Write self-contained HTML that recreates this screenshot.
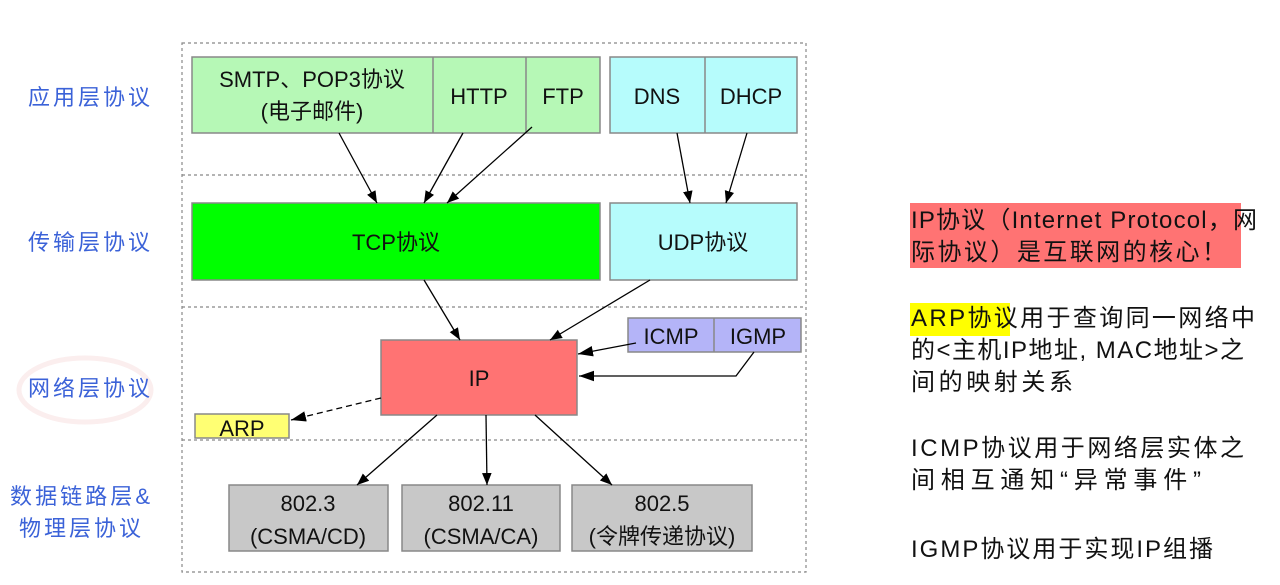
<!DOCTYPE html>
<html><head><meta charset="utf-8"><style>
body{margin:0;background:#fff}
svg{display:block}
.d{font-family:"Liberation Sans","Noto Sans CJK SC",sans-serif;font-size:22px;fill:#111}
.l{font-family:"Liberation Sans","Noto Sans CJK SC",sans-serif;font-size:22px;fill:#3b62d8}
.r{font-family:"Liberation Sans","Noto Sans CJK SC",sans-serif;font-size:24px;fill:#111}
</style></head><body>
<svg width="1280" height="585" viewBox="0 0 1280 585" xmlns="http://www.w3.org/2000/svg">
<defs><marker id="a" viewBox="0 0 10 10" refX="10" refY="5" markerWidth="12" markerHeight="12" orient="auto" markerUnits="userSpaceOnUse"><path d="M0,1 L10,5 L0,9 z" fill="#000"/></marker>
<marker id="b" viewBox="0 0 10 10" refX="10" refY="5" markerWidth="15" markerHeight="15" orient="auto" markerUnits="userSpaceOnUse"><path d="M0,1.5 L10,5 L0,8.5 z" fill="#000"/></marker></defs>
<rect x="0" y="0" width="1280" height="585" fill="#fff"/>
<ellipse cx="85" cy="390" rx="66" ry="32" fill="none" stroke="#fbeeee" stroke-width="5"/>
<g fill="none" stroke="#888" stroke-width="1.2" stroke-dasharray="3,3">
<rect x="182" y="43" width="624" height="529"/>
<line x1="182" y1="175" x2="806" y2="175"/><line x1="182" y1="307" x2="806" y2="307"/><line x1="182" y1="440" x2="806" y2="440"/>
</g>
<g stroke="#888" stroke-width="1.5">
<rect x="192" y="57" width="408" height="76" fill="#b6f8b6"/>
<line x1="433" y1="57" x2="433" y2="133"/><line x1="526" y1="57" x2="526" y2="133"/>
<rect x="610" y="57" width="187" height="76" fill="#b6fcfc"/>
<line x1="705" y1="57" x2="705" y2="133"/>
<rect x="192" y="203" width="408" height="77" fill="#00ff00"/>
<rect x="610" y="203" width="187" height="77" fill="#b6fcfc"/>
<rect x="381" y="340" width="196" height="75" fill="#ff7373"/>
<rect x="628" y="318" width="173" height="34" fill="#b4b4f8"/>
<line x1="714" y1="318" x2="714" y2="352"/>
<rect x="195" y="414" width="94" height="24" fill="#ffff73"/>
<rect x="229" y="485" width="159" height="66" fill="#c8c8c8"/>
<rect x="402" y="485" width="158" height="66" fill="#c8c8c8"/>
<rect x="572" y="485" width="180" height="66" fill="#c8c8c8"/>
</g>
<g stroke="#000" stroke-width="1.3" fill="none" marker-end="url(#a)">
<line x1="339" y1="133" x2="377" y2="203"/>
<line x1="463" y1="133" x2="424" y2="203"/>
<line x1="532" y1="127" x2="447" y2="203"/>
<line x1="677" y1="133" x2="690" y2="203"/>
<line x1="747" y1="133" x2="726" y2="203"/>
<line x1="424" y1="280" x2="460" y2="340"/>
<line x1="650" y1="280" x2="550" y2="340"/>
<line x1="636" y1="343" x2="578" y2="354" marker-end="url(#b)"/>
<polyline points="754,352 736,376 579,376" marker-end="url(#b)"/>
<line x1="437" y1="415" x2="357" y2="485"/>
<line x1="486" y1="415" x2="487" y2="485"/>
<line x1="535" y1="415" x2="612" y2="485"/>
<line x1="381" y1="398" x2="291" y2="420" stroke-dasharray="6,4" marker-end="url(#b)"/>
</g>
<g class="d" text-anchor="middle">
<text x="312" y="87">SMTP、POP3协议</text><text x="312" y="119">(电子邮件)</text>
<text x="479" y="104">HTTP</text><text x="563" y="104">FTP</text>
<text x="657" y="104">DNS</text><text x="751" y="104">DHCP</text>
<text x="396" y="250">TCP协议</text><text x="703" y="250">UDP协议</text>
<text x="479" y="386">IP</text>
<text x="671" y="344">ICMP</text><text x="758" y="344">IGMP</text>
<text x="242" y="436">ARP</text>
<text x="308" y="511">802.3</text><text x="308" y="544">(CSMA/CD)</text>
<text x="481" y="511">802.11</text><text x="481" y="544">(CSMA/CA)</text>
<text x="662" y="511">802.5</text><text x="662" y="544">(令牌传递协议)</text>
</g>
<g class="l">
<text x="28" y="105" textLength="122">应用层协议</text>
<text x="28" y="250" textLength="122">传输层协议</text>
<text x="28" y="396" textLength="122">网络层协议</text>
<text x="10" y="504" textLength="140">数据链路层&amp;</text>
<text x="19" y="536" textLength="122">物理层协议</text>
</g>
<rect x="910" y="203" width="331" height="65" fill="#ff7373"/>
<rect x="910" y="303" width="100" height="33" fill="#ffff00"/>
<g class="r">
<text x="911" y="228" textLength="346">IP协议（Internet Protocol，网</text>
<text x="911" y="260" textLength="315">际协议）是互联网的核心！</text>
<text x="911" y="326" textLength="344">ARP协议用于查询同一网络中</text>
<text x="911" y="358" textLength="333">的&lt;主机IP地址, MAC地址&gt;之</text>
<text x="911" y="390" textLength="162">间的映射关系</text>
<text x="911" y="456" textLength="333">ICMP协议用于网络层实体之</text>
<text x="911" y="488" textLength="290">间相互通知“异常事件”</text>
<text x="911" y="557" textLength="302">IGMP协议用于实现IP组播</text>
</g>
</svg>
</body></html>
